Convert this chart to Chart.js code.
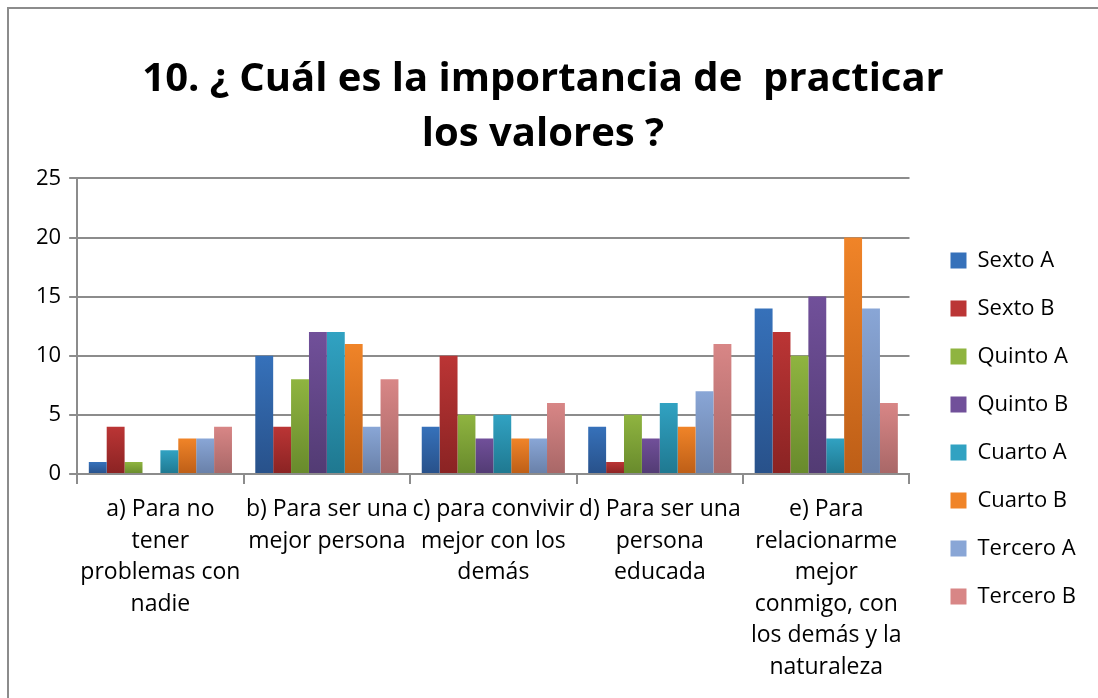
<!DOCTYPE html>
<html>
<head>
<meta charset="utf-8">
<script src="https://cdn.jsdelivr.net/npm/chart.js@4/dist/chart.umd.min.js"></script>
<style>
  html, body { margin: 0; padding: 0; background: #fff; overflow: hidden; }
  #frame { position: absolute; left: 7px; top: 7px; width: 1200px; height: 800px; border: 2px solid #8c8c8c; }
  #wrap { position: absolute; left: 0; top: 0; width: 1098px; height: 698px; }
</style>
</head>
<body>
<div id="frame"></div>
<div id="wrap"><canvas id="chart" width="1098" height="698"></canvas></div>
<script>
// categories (multi-line, as in the original)
const categories = [
  ["a) Para no", "tener", "problemas con", "nadie"],
  ["b) Para ser una", "mejor persona"],
  ["c) para convivir", "mejor con los", "demás"],
  ["d) Para ser una", "persona", "educada"],
  ["e) Para", "relacionarme", "mejor", "conmigo, con", "los demás y la", "naturaleza"]
];

const seriesNames = ["Sexto A", "Sexto B", "Quinto A", "Quinto B", "Cuarto A", "Cuarto B", "Tercero A", "Tercero B"];

const sextoA = [1, 10, 4, 4, 14];
const sextoB = [4, 4, 10, 1, 12];
const quintoA = [1, 8, 5, 5, 10];
const quintoB = [0, 12, 3, 3, 15];
const cuartoA = [2, 12, 5, 6, 3];
const cuartoB = [3, 11, 3, 4, 20];
const terceroA = [3, 4, 3, 7, 14];
const terceroB = [4, 8, 6, 11, 6];

const yTicks = [0, 5, 10, 15, 20, 25];

// top / bottom colours for the bar gradients
const colorsTop = ["#3671ba", "#bb3535", "#8fb440", "#71509a", "#31a2c2", "#f08428", "#89a6d6", "#d88686"];
const colorsBottom = ["#28518a", "#8a2323", "#688a2c", "#523b73", "#1f7890", "#bd5e17", "#6980a8", "#a86767"];

const allValues = [sextoA, sextoB, quintoA, quintoB, cuartoA, cuartoB, terceroA, terceroB];

function barFill(i) {
  return function (context) {
    const chart = context.chart;
    if (!chart.chartArea || context.type !== "data") return colorsTop[i];
    const y = chart.scales.y;
    const top = y.getPixelForValue(context.parsed ? context.parsed.y : 0);
    const bottom = y.getPixelForValue(0);
    if (!(bottom > top)) return colorsTop[i];
    const g = chart.ctx.createLinearGradient(0, top, 0, bottom);
    g.addColorStop(0, colorsTop[i]);
    g.addColorStop(1, colorsBottom[i]);
    return g;
  };
}

const datasets = seriesNames.map(function (name, i) {
  return {
    label: name,
    data: allValues[i],
    backgroundColor: barFill(i),
    borderWidth: 0,
    categoryPercentage: 0.86,
    barPercentage: 1.0
  };
});

// wider gap between plot and legend, legend sits a bit lower, title a bit left
const legendGap = {
  id: "legendGap",
  beforeInit: function (chart) {
    const fit = chart.legend.fit;
    chart.legend.fit = function () {
      fit.call(this);
      this.width += 17;
    };
  },
  afterLayout: function (chart) {
    chart.legend.left += 15;
    chart.legend.right += 15;
    chart.legend.top += 56;
    chart.legend.bottom += 56;
    if (chart.titleBlock) {
      chart.titleBlock.left -= 15;
      chart.titleBlock.right -= 15;
    }
  }
};

const font = "'Open Sans', 'Noto Sans', sans-serif";
Chart.defaults.font.family = font;
Chart.defaults.color = "#000";

var ctx = document.getElementById("chart").getContext("2d");
var myChart = new Chart(ctx, {
  type: "bar",
  data: { labels: categories, datasets: datasets },
  plugins: [legendGap],
  options: {
    responsive: false,
    animation: false,
    layout: { padding: { left: 28, right: 10, top: 52, bottom: 5 } },
    plugins: {
      title: {
        display: true,
        text: ["10. ¿ Cuál es la importancia de  practicar", "los valores ?"],
        font: { size: 40, weight: "bold", lineHeight: 1.38 },
        color: "#000",
        padding: { top: 0, bottom: 16 }
      },
      legend: {
        position: "right",
        labels: {
          boxWidth: 16,
          boxHeight: 16,
          padding: 26,
          font: { size: 22 },
          color: "#000",
          generateLabels: function (chart) {
            return seriesNames.map(function (name, i) {
              return {
                text: name,
                fillStyle: colorsTop[i],
                strokeStyle: colorsTop[i],
                lineWidth: 0,
                datasetIndex: i,
                hidden: false
              };
            });
          }
        }
      },
      tooltip: { enabled: false }
    },
    scales: {
      x: {
        grid: {
          offset: true,
          drawOnChartArea: false,
          drawTicks: true,
          tickLength: 10,
          color: "#8c8c8c",
          lineWidth: 2
        },
        border: { color: "#8c8c8c", width: 2 },
        ticks: {
          maxRotation: 0,
          autoSkip: false,
          font: { size: 23, lineHeight: 1.37 },
          color: "#000",
          padding: 10
        }
      },
      y: {
        min: 0,
        max: 25,
        afterBuildTicks: function (axis) {
          axis.ticks = yTicks.map(function (v) { return { value: v }; });
        },
        grid: { color: "#8c8c8c", lineWidth: 2, tickLength: 8 },
        border: { color: "#8c8c8c", width: 2 },
        ticks: { font: { size: 22 }, color: "#000", padding: 8 }
      }
    }
  }
});
</script>
</body>
</html>
